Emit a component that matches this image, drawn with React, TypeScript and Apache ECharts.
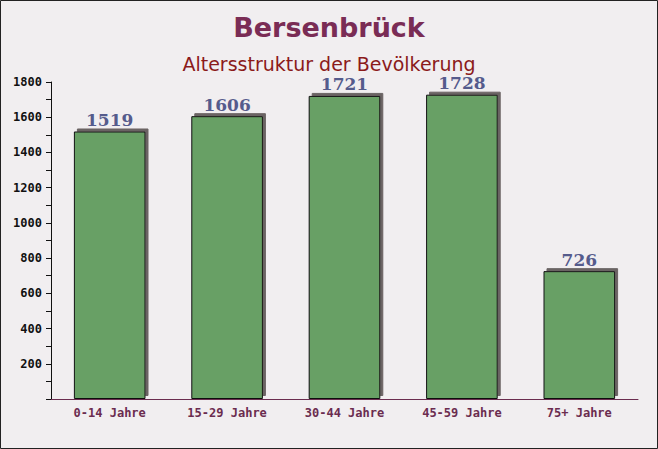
import React, { useEffect, useRef } from "react";
import * as echarts from "echarts";

const categories = ["0-14 Jahre", "15-29 Jahre", "30-44 Jahre", "45-59 Jahre", "75+ Jahre"];
const values = [1519, 1606, 1721, 1728, 726];
const titleText = "Bersenbrück";
const subtitleText = "Altersstruktur der Bevölkerung";

export default function App() {
  const ref = useRef<HTMLDivElement>(null);
  useEffect(() => {
    document.body.style.margin = "0";
    const chart = echarts.init(ref.current!, undefined, { renderer: "svg" });
    chart.setOption({
      animation: false,
      backgroundColor: "#f1eef0",
      title: [
        {
          text: titleText,
          left: "center",
          top: 9,
          textStyle: { fontFamily: "DejaVu Sans", fontWeight: "bold", fontSize: 27, color: "#7a2c55" },
        },
        {
          text: subtitleText,
          left: "center",
          top: 48,
          textStyle: { fontFamily: "DejaVu Sans", fontWeight: "normal", fontSize: 19, lineHeight: 22, color: "#8b1a1a" },
        },
      ],
      graphic: [
        { type: "rect", shape: { x: 0.5, y: 0.5, width: 657, height: 448 }, style: { fill: "none", stroke: "#222", lineWidth: 1 }, silent: true, z: 100 },
      ],
      grid: { left: 51, right: 20, top: 82, bottom: 50 },
      xAxis: {
        type: "category",
        data: categories,
        axisLine: { lineStyle: { color: "#6b2c4f", width: 1 } },
        axisTick: { inside: true, length: 4, alignWithLabel: false, lineStyle: { color: "#6b2c4f" } },
        axisLabel: { fontFamily: "DejaVu Sans Mono", fontWeight: "bold", fontSize: 12, color: "#6b2c4f", margin: 8 },
      },
      yAxis: {
        type: "value",
        min: 0,
        max: 1800,
        interval: 100,
        splitLine: { show: false },
        axisLine: { show: true, lineStyle: { color: "#111", width: 1 } },
        axisTick: { show: true, length: 5, lineStyle: { color: "#111" } },
        axisLabel: {
          fontFamily: "DejaVu Sans Mono",
          fontWeight: "bold",
          fontSize: 12,
          color: "#111",
          margin: 9,
          formatter: (v: number) => (v > 0 && v % 200 === 0 ? String(v) : ""),
        },
      },
      series: [
        {
          type: "bar",
          data: values,
          barWidth: "61%",
          itemStyle: {
            color: "#68a065",
            borderColor: "#111",
            borderWidth: 1,
            shadowColor: "#6a6464",
            shadowOffsetX: 3,
            shadowOffsetY: -3,
            shadowBlur: 0,
          },
          label: {
            show: true,
            position: "top",
            distance: 3,
            fontFamily: "DejaVu Serif",
            fontWeight: "bold",
            fontSize: 17,
            lineHeight: 17,
            color: "#555b8c",
          },
        },
      ],
    });
    return () => chart.dispose();
  }, []);
  return <div ref={ref} style={{ position: "fixed", left: 0, top: 0, width: 658, height: 449 }} />;
}
